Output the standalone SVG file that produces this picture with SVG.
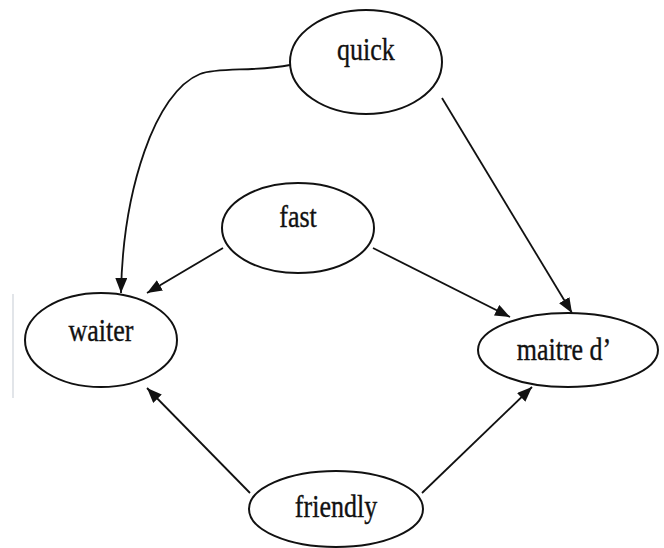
<svg xmlns="http://www.w3.org/2000/svg" width="664" height="548" viewBox="0 0 664 548">
<style>
.node ellipse{fill:#fff;stroke:#111;stroke-width:2}
.node text{font-family:"Liberation Serif","Times New Roman",serif;font-size:26px;fill:#111;stroke:#111;stroke-width:0.3;text-anchor:middle}
.edge{fill:none;stroke:#111;stroke-width:1.8;marker-end:url(#arr)}
</style>
<defs>
<marker id="arr" markerUnits="userSpaceOnUse" markerWidth="16" markerHeight="12" viewBox="0 0 16 12" refX="15" refY="6" orient="auto">
<path d="M0,0 L15,6 L0,12 z" fill="#111"/>
</marker>
</defs>
<rect width="664" height="548" fill="#fff"/>
<line x1="13" y1="294" x2="13" y2="398" stroke="#d8dde2" stroke-width="1.5"/>
<g id="connectors">
<path class="edge" d="M290,65 C255,72 218,67 200,74 C155,92 123,190 121,293"/>
<path class="edge" d="M442,98 L572,313"/>
<path class="edge" d="M223,248 L147,293"/>
<path class="edge" d="M373,248 L510,317"/>
<path class="edge" d="M250,493 L147,388"/>
<path class="edge" d="M422,493 L532,387"/>
</g>
<g id="quick" class="node"><ellipse cx="366" cy="62" rx="76" ry="52"/><text transform="translate(366,60) scale(1,1.25)">quick</text></g>
<g id="fast" class="node"><ellipse cx="298" cy="228" rx="76" ry="45"/><text transform="translate(298,227) scale(1,1.25)">fast</text></g>
<g id="waiter" class="node"><ellipse cx="101" cy="340" rx="76" ry="47"/><text transform="translate(101,341) scale(1,1.25)">waiter</text></g>
<g id="maitre" class="node"><ellipse cx="568" cy="350" rx="90" ry="37"/><text transform="translate(564,360) scale(1,1.25)">maitre d’</text></g>
<g id="friendly" class="node"><ellipse cx="336" cy="509" rx="87" ry="38"/><text transform="translate(336,517) scale(1,1.25)">friendly</text></g>
</svg>
